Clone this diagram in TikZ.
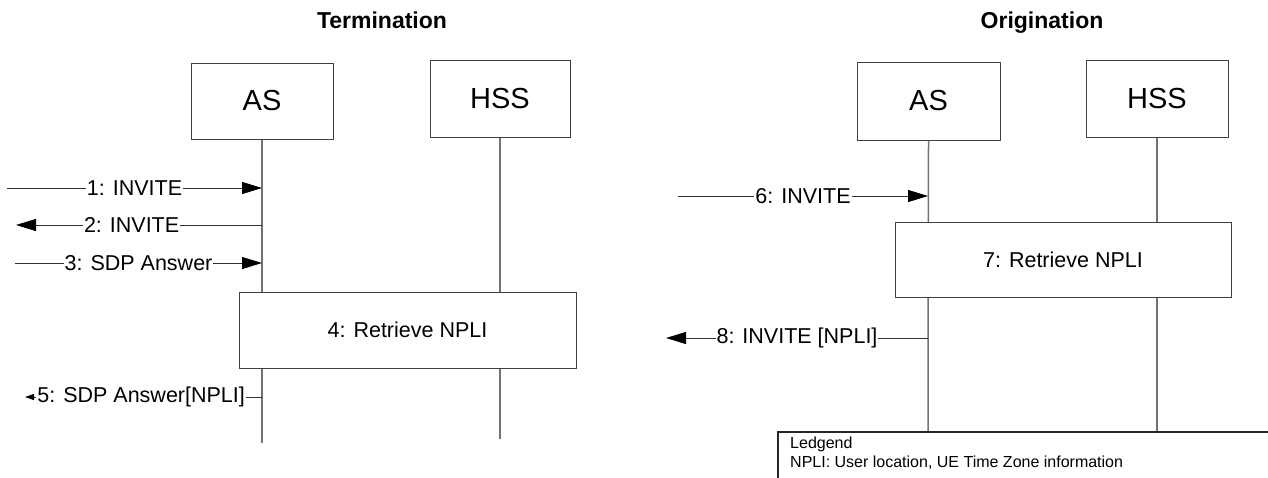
\documentclass[tikz,border=0pt]{standalone}
\usepackage{fontspec}
\setmainfont{Liberation Sans}
\usetikzlibrary{arrows.meta}
\begin{document}
\begin{tikzpicture}[x=1pt,y=-1pt,
  entity/.style={draw=black!75,line width=1pt,fill=white,font=\fontsize{29}{32}\selectfont,inner sep=0pt},
  life/.style={draw=black!55,line width=1.5pt},
  msg/.style={draw=black!80,line width=1pt},
  big/.style={-{Triangle[length=20pt,width=12pt,color=black]}},
  small/.style={-{Triangle[length=9pt,width=6pt,color=black]}},
  lbl/.style={fill=white,inner xsep=1pt,inner ysep=2pt,text=black,font=\fontsize{21.5}{24}\selectfont},
  actbox/.style={draw=black!75,line width=1pt,fill=white,font=\fontsize{21.5}{24}\selectfont,inner sep=0pt},
  title/.style={font=\fontsize{23}{26}\selectfont\bfseries,anchor=base,inner sep=0pt}]
\useasboundingbox (0,0) rectangle (1268,477);

% titles
\node[title] (tT) at (382,28) {Termination};
\node[title] (tO) at (1042,28) {Origination};

% ---------- Termination ----------
\node[entity,minimum width=142,minimum height=76] (asT) at (262,101) {AS};
\node[entity,minimum width=140,minimum height=77] (hssT) at (500,98.5) {HSS};
\coordinate (asTe) at (262,443);
\coordinate (hssTe) at (500,439);
\draw[life] (asT.south) -- (asTe);
\draw[life] (hssT.south) -- (hssTe);

\coordinate (s1) at (7,188);   \coordinate (a1) at (262,188);
\coordinate (e2) at (16,225);  \coordinate (a2) at (262,225);
\coordinate (s3) at (15,263);  \coordinate (a3) at (262,263);
\coordinate (e5) at (25,397);  \coordinate (a5) at (262,397);

\draw[msg,big] (s1) -- node[lbl] (l1) {1: INVITE} (a1);
\draw[msg,big] (a2) -- node[lbl,pos=0.53] (l2) {2: INVITE} (e2);
\draw[msg,big] (s3) -- node[lbl] (l3) {3: SDP Answer} (a3);
\node[actbox,minimum width=337,minimum height=76] (r4) at (407.5,330) {4: Retrieve NPLI};
\draw[msg,small] (a5) -- node[lbl,pos=0.51] (l5) {5: SDP Answer[NPLI]} (e5);

% ---------- Origination ----------
\node[entity,minimum width=143,minimum height=78] (asO) at (928.5,101) {AS};
\node[entity,minimum width=142,minimum height=77] (hssO) at (1157,98.5) {HSS};
\coordinate (asOe) at (928,432);
\coordinate (hssOe) at (1157,432);
\draw[life] (asO.south) -- (asOe);
\draw[life] (hssO.south) -- (hssOe);

\coordinate (s6) at (678,196);  \coordinate (a6) at (928,196);
\coordinate (e8) at (666,338);  \coordinate (a8) at (928,338);
\draw[msg,big] (s6) -- node[lbl] (l6) {6: INVITE} (a6);
\node[actbox,minimum width=336,minimum height=75] (r7) at (1063,259.5) {7: Retrieve NPLI};
\draw[msg,big] (a8) -- node[lbl] (l8) {8: INVITE [NPLI]} (e8);

% legend
\coordinate (lg1) at (778,480);
\coordinate (lg2) at (778,432);
\coordinate (lg3) at (1270,432);
\draw[draw=black!85,line width=1.2pt] (lg1) -- (lg2) -- (lg3);
\node[anchor=west,font=\fontsize{16}{18}\selectfont,inner sep=0pt] (lt1) at (790,444) {Ledgend};
\node[anchor=west,font=\fontsize{16}{18}\selectfont,inner sep=0pt] (lt2) at (790,463) {NPLI: User location, UE Time Zone information};
\end{tikzpicture}
\end{document}
